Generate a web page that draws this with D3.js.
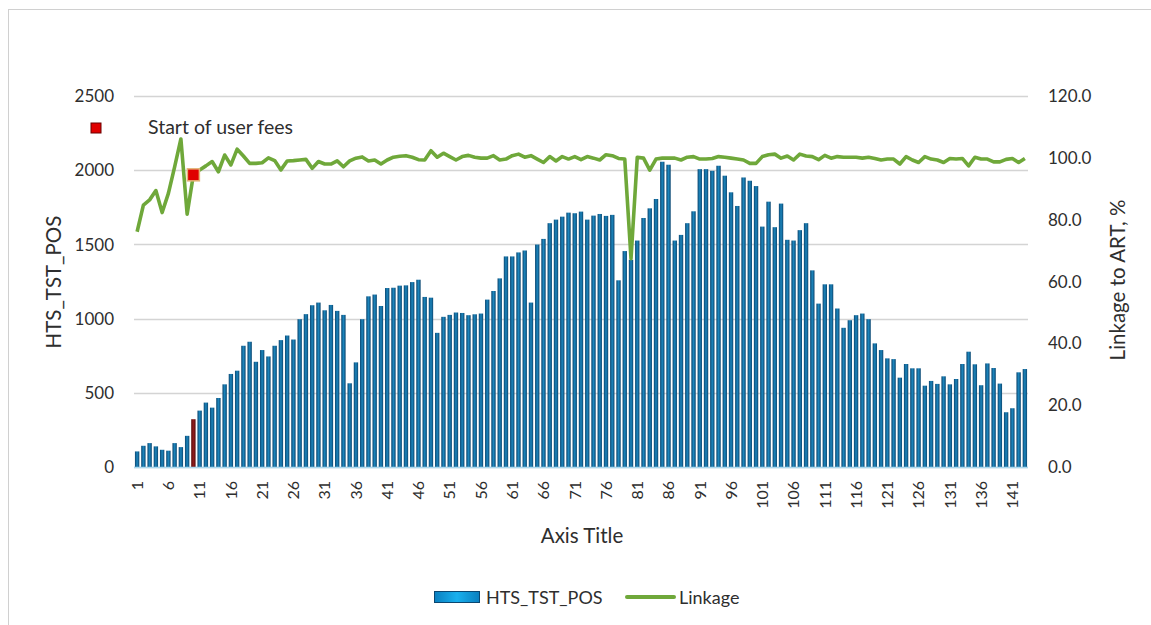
<!DOCTYPE html>
<html>
<head>
<meta charset="utf-8">
<script src="https://cdn.jsdelivr.net/npm/d3@7"></script>
<style>
  body { margin: 0; background: #fff; }
  text { font-family: Lato, "Open Sans", sans-serif; fill: #2e2e2e; }
</style>
</head>
<body>
<div id="vis-container"></div>
<script>
// data
var periods = d3.range(1, 144);
var htsTstPos = [105,143,161,139,116,110,161,134,210,322,
  380,434,400,465,557,627,649,817,844,709,
  788,745,817,855,886,859,996,1030,1090,1108,
  1056,1092,1052,1025,564,705,996,1150,1162,1085,
  1206,1208,1222,1224,1246,1262,1146,1141,904,1012,
  1025,1041,1038,1023,1029,1034,1128,1186,1271,1419,
  1419,1446,1459,1108,1499,1537,1643,1667,1687,1714,
  1710,1721,1667,1694,1705,1692,1699,1258,1455,1396,
  1526,1678,1743,1806,2057,2037,1526,1564,1643,1723,
  2007,2007,1996,2030,1963,1851,1759,1951,1929,1893,
  1620,1788,1616,1775,1531,1526,1596,1643,1325,1101,
  1231,1231,1068,938,989,1023,1034,996,833,788,
  732,727,602,694,665,665,548,580,560,611,
  557,593,694,777,692,551,698,667,562,369,
  396,638,660];
var linkage = [76.1,84.7,86.4,89.4,82.3,88.5,97.1,106.1,81.8,94.5,
  96.1,97.4,98.8,95.5,100.9,97.7,102.8,100.6,98.2,98.2,
  98.4,100.0,99.1,96.1,99.0,99.1,99.3,99.5,96.6,98.8,
  98.0,98.0,99.0,97.1,99.0,99.9,100.3,99.0,99.3,98.0,
  99.3,100.2,100.5,100.7,100.2,99.4,99.3,102.3,100.2,101.5,
  100.4,99.3,100.4,100.8,100.2,99.9,99.9,100.7,99.3,99.6,
  100.7,101.2,100.2,100.7,99.6,98.5,100.4,99.0,100.4,99.6,
  100.4,99.4,100.4,99.9,99.3,101.0,100.7,99.8,99.6,67.4,
  100.2,99.9,96.0,99.6,99.9,99.9,99.9,99.3,100.2,100.4,
  99.6,99.6,99.8,100.4,100.2,99.9,99.6,99.3,98.2,98.2,
  100.4,101.0,101.2,99.9,100.6,99.3,101.2,100.6,100.4,99.4,
  100.8,99.9,100.4,100.2,100.2,100.2,99.9,100.2,99.8,99.3,
  99.6,99.6,98.0,100.4,99.3,98.5,100.4,99.6,99.3,98.5,
  99.8,99.6,99.8,97.4,100.2,99.6,99.6,98.7,98.7,99.5,
  99.8,98.5,99.8];
var leftTicks = [0, 500, 1000, 1500, 2000, 2500];
var rightTicks = [0, 20, 40, 60, 80, 100, 120];
var feeStart = 10; // period where user fees start
var feeLabel = "Start of user fees";

var width = 1151, height = 625;
var svg = d3.select("#vis-container")
  .append("svg")
  .attr("width", width)
  .attr("height", height);

// chart frame
svg.append("rect")
  .attr("x", 8.5).attr("y", 9.5)
  .attr("width", 1200).attr("height", 700)
  .attr("fill", "none")
  .attr("stroke", "#d0d0d0");

var defs = svg.append("defs");
function barGradient(id, edge, mid) {
  var g = defs.append("linearGradient").attr("id", id)
    .attr("x1", "0%").attr("x2", "100%").attr("y1", "0%").attr("y2", "0%");
  g.append("stop").attr("offset", "0%").attr("stop-color", edge);
  g.append("stop").attr("offset", "50%").attr("stop-color", mid);
  g.append("stop").attr("offset", "100%").attr("stop-color", edge);
}
barGradient("blueBar", "#0b4670", "#1c86bd");
barGradient("redBar", "#5a0c0c", "#8e1c1c");
barGradient("legBar", "#0a7fbf", "#19b0ee");

// scales
var xScale = d3.scaleBand().domain(periods).range([134, 1028]).paddingInner(0.3).paddingOuter(0.15);
var yLeft = d3.scaleLinear().domain([0, 2500]).range([467, 96]);
var yRight = d3.scaleLinear().domain([0, 120]).range([467, 96]);

// gridlines
svg.append("g").selectAll("line")
  .data(leftTicks)
  .join("line")
  .attr("x1", 134).attr("x2", 1028)
  .attr("y1", function (d) { return Math.round(yLeft(d)) + 0.5; })
  .attr("y2", function (d) { return Math.round(yLeft(d)) + 0.5; })
  .attr("stroke", "#d4d4d4")
  .attr("stroke-width", 1.3);

// bars
svg.append("g").selectAll("rect")
  .data(htsTstPos)
  .join("rect")
  .attr("x", function (d, i) { return xScale(periods[i]); })
  .attr("y", function (d) { return yLeft(d); })
  .attr("width", xScale.bandwidth())
  .attr("height", function (d) { return yLeft(0) - yLeft(d); })
  .attr("fill", function (d, i) { return periods[i] === feeStart ? "url(#redBar)" : "url(#blueBar)"; });

// baseline glow
svg.append("line")
  .attr("x1", 134).attr("x2", 1028)
  .attr("y1", 467.5).attr("y2", 467.5)
  .attr("stroke", "#a9d8ee").attr("stroke-width", 1.5);

// linkage line
var line = d3.line()
  .x(function (d, i) { return xScale(periods[i]) + xScale.bandwidth() / 2; })
  .y(function (d) { return yRight(d); });

svg.append("path")
  .datum(linkage)
  .attr("fill", "none")
  .attr("stroke", "#6fa83a")
  .attr("stroke-width", 3.6)
  .attr("stroke-linejoin", "round")
  .attr("d", line);

// fee marker on the line
var fi = periods.indexOf(feeStart);
svg.append("rect")
  .attr("x", xScale(feeStart) + xScale.bandwidth() / 2 - 6)
  .attr("y", yRight(linkage[fi]) - 6)
  .attr("width", 12).attr("height", 12)
  .attr("fill", "#e00000")
  .attr("stroke", "#e3b377")
  .attr("stroke-width", 1.5);

// fee marker legend
svg.append("rect")
  .attr("x", 91).attr("y", 123)
  .attr("width", 10).attr("height", 10)
  .attr("fill", "#e00000")
  .attr("stroke", "#6a0000")
  .attr("stroke-width", 1);
svg.append("text")
  .attr("x", 148).attr("y", 134)
  .style("font-size", "19.5px")
  .text(feeLabel);

// left axis labels
svg.append("g").selectAll("text")
  .data(leftTicks)
  .join("text")
  .attr("x", 114)
  .attr("y", function (d) { return yLeft(d); })
  .attr("dy", "0.36em")
  .style("text-anchor", "end")
  .style("font-size", "17px")
  .text(function (d) { return d; });

// right axis labels
svg.append("g").selectAll("text")
  .data(rightTicks)
  .join("text")
  .attr("x", 1048)
  .attr("y", function (d) { return yRight(d); })
  .attr("dy", "0.36em")
  .style("text-anchor", "start")
  .style("font-size", "17px")
  .text(function (d) { return d3.format(".1f")(d); });

// x tick labels, every fifth period
svg.append("g").selectAll("text")
  .data(periods.filter(function (d) { return (d - 1) % 5 === 0; }))
  .join("text")
  .attr("transform", function (d) {
    return "translate(" + (xScale(d) + xScale.bandwidth() / 2) + ",481) rotate(-90)";
  })
  .attr("dy", "0.36em")
  .style("text-anchor", "end")
  .style("font-size", "16px")
  .text(function (d) { return d; });

// axis titles
svg.append("text")
  .attr("transform", "translate(54,282) rotate(-90)")
  .attr("dy", "0.36em")
  .style("text-anchor", "middle")
  .style("font-size", "20.5px")
  .text("HTS_TST_POS");

svg.append("text")
  .attr("transform", "translate(1118,280) rotate(-90)")
  .attr("dy", "0.36em")
  .style("text-anchor", "middle")
  .style("font-size", "20.5px")
  .text("Linkage to ART, %");

svg.append("text")
  .attr("x", 582).attr("y", 543)
  .style("text-anchor", "middle")
  .style("font-size", "20.5px")
  .text("Axis Title");

// legend
svg.append("rect")
  .attr("x", 434.5).attr("y", 591.5)
  .attr("width", 45).attr("height", 11)
  .attr("fill", "url(#legBar)")
  .attr("stroke", "#0b4670");
svg.append("text")
  .attr("x", 486).attr("y", 604)
  .style("font-size", "18px")
  .text("HTS_TST_POS");
svg.append("line")
  .attr("x1", 627).attr("x2", 674)
  .attr("y1", 597).attr("y2", 597)
  .attr("stroke", "#6fa83a")
  .attr("stroke-width", 4)
  .attr("stroke-linecap", "round");
svg.append("text")
  .attr("x", 679).attr("y", 604)
  .style("font-size", "18px")
  .text("Linkage");
</script>
</body>
</html>
